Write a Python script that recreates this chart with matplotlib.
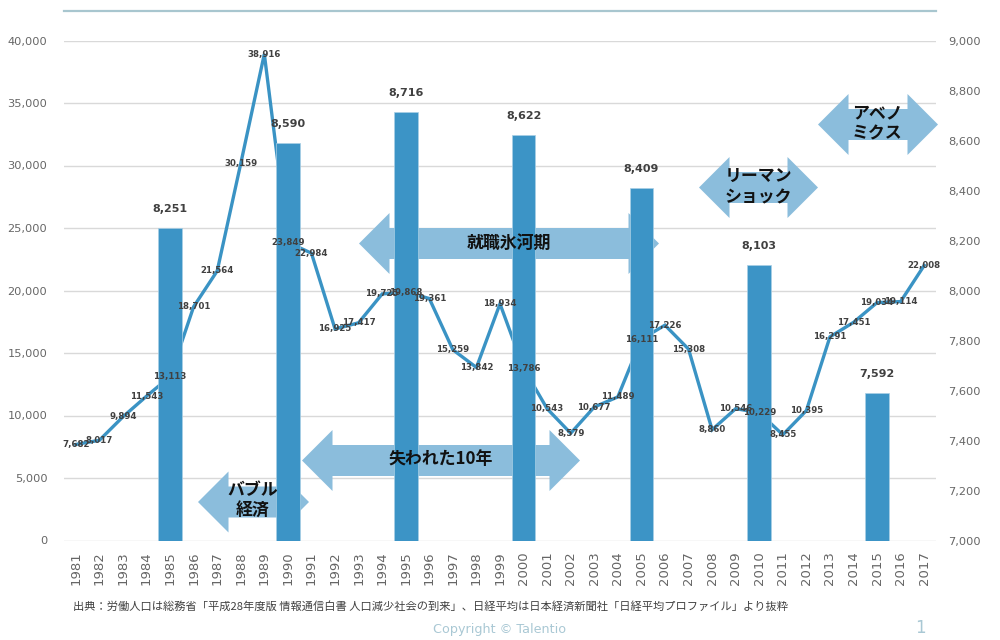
import matplotlib
matplotlib.use('Agg')
import matplotlib.pyplot as plt
from matplotlib.lines import Line2D
from matplotlib.patches import Polygon

JP = ['Noto Sans CJK JP', 'DejaVu Sans']

# left axis: line values
years = list(range(1981, 2018))
line_values = [7682, 8017, 9894, 11543, 13113, 18701, 21564, 30159, 38916, 23849,
               22984, 16925, 17417, 19725, 19868, 19361, 15259, 13842, 18934, 13786,
               10543, 8579, 10677, 11489, 16111, 17226, 15308, 8860, 10546, 10229,
               8455, 10395, 16291, 17451, 19034, 19114, 22008]

# right axis: bars every 5 years
bar_years = [1985, 1990, 1995, 2000, 2005, 2010, 2015]
bar_values = [8251, 8590, 8716, 8622, 8409, 8103, 7592]

left_ticks = list(range(0, 45000, 5000))
right_ticks = list(range(7000, 9200, 200))

fig = plt.figure(figsize=(10, 6.4), dpi=100)
W, H = 1000, 640


# pixel position in the picture -> figure coords
def px(x, y):
    return x / W, 1 - y / H


ax = fig.add_axes([0.064, 1 - 540.5 / H, 0.872, 500 / H])
ax2 = ax.twinx()
ax.set_zorder(1)
ax2.set_zorder(2)
ax2.patch.set_visible(False)

ax.plot(years, line_values, color='#3A93C4', lw=2.4, solid_joinstyle='miter', zorder=3)
ax2.bar(bar_years, bar_values, width=1.0, color='#3C94C6', edgecolor='#A9CFE5', lw=0.5, zorder=3)

ax.set_xlim(1980.5, 2017.5)
ax.set_ylim(0, 40000)
ax2.set_ylim(7000, 9000)
ax.set_xticks(years)
ax.set_xticklabels([str(y) for y in years], rotation=90, fontsize=9.5, color='#666666')
ax.set_yticks(left_ticks)
ax.set_yticklabels([f'{v:,}' for v in left_ticks], fontsize=8.2, color='#666666')
ax2.set_yticks(right_ticks)
ax2.set_yticklabels([f'{v:,}' for v in right_ticks], fontsize=8.2, color='#666666')
ax.tick_params(axis='x', length=0, pad=8)
ax.tick_params(axis='y', length=0, pad=12)
ax2.tick_params(axis='y', length=0, pad=8.5)
ax.grid(axis='y', color='#D9D9D9', lw=1)
ax.set_axisbelow(True)
for a in (ax, ax2):
    for s in a.spines.values():
        s.set_visible(False)

# line labels sit on top of the bars, so they go on ax2
for y, v in zip(years, line_values):
    ax2.text(y, v, f'{v:,}', transform=ax.transData, ha='center', va='center',
             fontsize=6.2, fontweight='bold', color='#404040', zorder=6)

for y, v in zip(bar_years, bar_values):
    ax2.annotate(f'{v:,}', (y, v), xytext=(0, 13.5), textcoords='offset points', ha='center',
                 va='center', fontsize=8, fontweight='bold', color='#404040', zorder=6)


# double headed block arrow, behind the bars
def block_arrow(x0, x1, yc, head=30.5, half=30.5, body=15.5):
    pts = [(x0, yc), (x0 + head, yc - half), (x0 + head, yc - body), (x1 - head, yc - body),
           (x1 - head, yc - half), (x1, yc), (x1 - head, yc + half), (x1 - head, yc + body),
           (x0 + head, yc + body), (x0 + head, yc + half)]
    ax.add_patch(Polygon([px(*p) for p in pts], closed=True, transform=fig.transFigure,
                         facecolor='#8BBDDC', edgecolor='none', zorder=4, clip_on=False))


block_arrow(198, 309, 502)
block_arrow(302, 580, 460.5)
block_arrow(359, 659, 243.5)
block_arrow(699, 818, 187.5)
block_arrow(818, 938, 124.5)


def arrow_text(x, y, s):
    ax2.text(*px(x, y), s, transform=fig.transFigure, ha='center', va='center', family=JP,
             fontsize=12.2, fontweight='bold', color='#111111', zorder=7)


arrow_text(253, 490, 'バブル')
arrow_text(253, 510, '経済')
arrow_text(441, 459, '失われた10年')
arrow_text(509, 243, '就職氷河期')
arrow_text(758, 176, 'リーマン')
arrow_text(758, 197, 'ショック')
arrow_text(877, 113, 'アベノ')
arrow_text(877, 133, 'ミクス')

# top rule
fig.add_artist(Line2D([0.064, 0.936], [1 - 11 / H, 1 - 11 / H], color='#A8C6CF', lw=1.6))

fig.text(*px(73, 606), '出典：労働人口は総務省「平成28年度版 情報通信白書 人口減少社会の到来」、日経平均は日本経済新聞社「日経平均プロファイル」より抜粋',
         family=JP, fontsize=8.1, color='#404040', ha='left', va='center')
fig.text(*px(500, 629), 'Copyright © Talentio', fontsize=9.2, color='#A9C8D4', ha='center', va='center')
fig.text(*px(920, 628), '1', fontsize=12, color='#A9C8D4', ha='center', va='center')

fig.savefig('out.png', dpi=100)
